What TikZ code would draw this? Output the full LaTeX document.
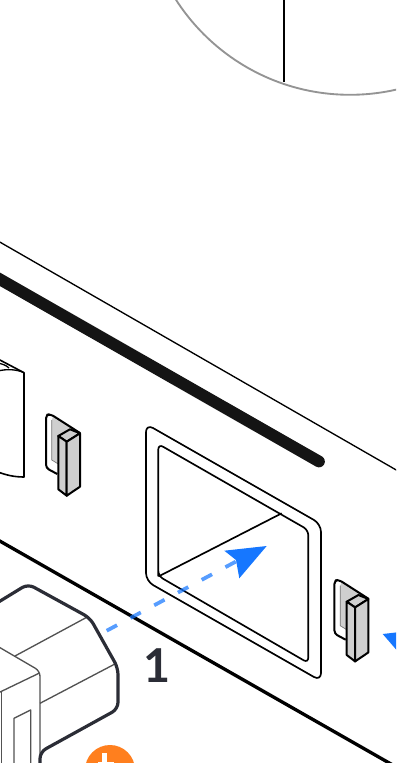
\documentclass[tikz,border=0pt]{standalone}
\usepackage{fontspec}
\setmainfont{Lato}
\definecolor{inkd}{HTML}{2B2D36}
\definecolor{blued}{HTML}{1677FF}
\definecolor{orangeb}{HTML}{FF7F1E}
\definecolor{clipg}{HTML}{CFCFCF}
\tikzset{
 panelthin/.style={draw=black,line width=1pt,line join=round},
 clipl/.style={draw=black,line width=1.5pt,line join=round},
 plugl/.style={draw=inkd,line width=2.4pt,line join=round,rounded corners=5pt},
 plugt/.style={draw=black!68,line width=1pt,line join=round},
 dashblue/.style={draw=blued,opacity=0.72,line width=2.8pt,dash pattern=on 8.8pt off 11.4pt},
 clipmark/.pic={
  \fill[clipg] (-6.5,-16) -- (-5,-20) -- (21.7,-3) -- (0,28) -- (-6.5,24) -- cycle;
  \draw[black!55,line width=0.5pt] (-6.5,-16) -- (-6.5,24) -- (0,28);
  \draw[clipl,rounded corners=2.5pt] (-1,38) -- (-12.3,32) -- (-12.3,-21) -- (-8,-22) -- (21.7,-3);
  \draw[clipl,fill=clipg] (0,0) -- (11.7,-6.7) -- (21.7,-2.7) -- (8.4,5.7) -- cycle;
  \draw[clipl,fill=clipg] (0,0) -- (8.4,5.7) -- (8.4,59.7) -- (0,53.3) -- cycle;
  \draw[clipl,fill=clipg] (8.4,5.7) -- (21.7,-2.7) -- (21.7,50.7) -- (8.4,59.7) -- cycle;
 }
}
\begin{document}
\begin{tikzpicture}[x=0.75pt,y=-0.75pt]
\useasboundingbox (0,0) rectangle (396,763);
\clip (0,0) rectangle (396,763);
% magnifier circle and the line in it
\draw[draw=black!42,line width=1.4pt] (350,-112) circle[radius=206.8];
\draw[black,line width=1.8pt] (284,-2) -- (284,82);
% panel lines
\draw[panelthin] (-2,241) -- (398,471);
\draw[draw=black!92,line width=8.8pt,line cap=round] (-12,272.5) -- (319,461.5);
\draw[black,line width=2.5pt] (-2,540) -- (398,768);
% cylinder at left
\draw[panelthin,line width=1.2pt,fill=white] (-2,359) -- (24,372.7) -- (24,477) .. controls (14,477) and (6,475) .. (-2,472);
\draw[panelthin] (-2,371) .. controls (6,369) and (16,369) .. (24,372.7);
\draw[panelthin] (-2,363) .. controls (2,364) and (6,365) .. (9,368);
% clips
\pic at (58.3,436) {clipmark};
\pic at (346.7,601.7) {clipmark};
% opening
\draw[panelthin,line width=1.25pt,rounded corners=6pt] (146,424) -- (321,524) -- (321,681) -- (146,581) -- cycle;
\draw[panelthin,line width=1.25pt,rounded corners=4pt] (158.3,500) -- (158.3,444) -- (308.3,530) -- (308.3,663) -- (158.3,576) [sharp corners] -- (158.3,576) -- (158.3,500);
\draw[panelthin,line width=1.25pt] (158.8,576.3) -- (281.7,513.3);
% plug
\draw[plugt] (86.7,617.3) -- (15,656);
\draw[plugt] (114.3,664.3) -- (40,703.3);
\draw[plugt,rounded corners=4pt] (-2,646.5) -- (40,671) -- (40,770);
\draw[plugt] (39.5,673) -- (-2,693);
\draw[plugt] (1.8,691.5) -- (1.8,770);
\draw[plugt] (14,770) -- (14,718.3) -- (30.7,710) -- (30.7,770);
\draw[plugl] (-8,606) -- (28,584) -- (90,618) -- (118,668) -- (118,709) -- (40,752) -- (40,770);
% badge
\fill[orangeb] (110,770) circle[radius=25];
\fill[white] (102,753) rectangle (107,770);
\fill[white] (98,762) rectangle (114,770);
% arrow
\coordinate (arrowstart) at (106.7,630.7);
\coordinate (arrowend) at (236,561.5);
\draw[dashblue] (arrowstart) -- (arrowend);
\fill[blued] (266.7,546) -- (224.3,550.7) -- (236,560) -- (239.3,578.3) -- cycle;
\fill[blued] (382.7,634) -- (400,632) -- (400,654) -- cycle;
% label
\node[font=\fontsize{35}{35}\selectfont\bfseries,text=inkd,inner sep=0pt] (stepone) at (156.7,666) {1};
\end{tikzpicture}
\end{document}
